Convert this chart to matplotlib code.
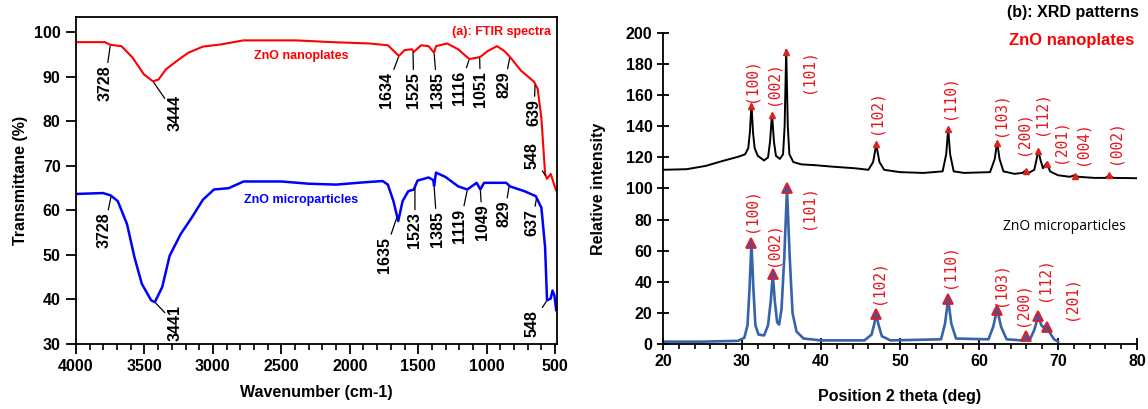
import numpy as np
import matplotlib.pyplot as plt
from matplotlib.ticker import MultipleLocator

plt.rcParams['font.family'] = ['Liberation Sans', 'DejaVu Sans']
plt.rcParams['font.weight'] = 'bold'
plt.rcParams['axes.labelweight'] = 'bold'

# FTIR spectra (wavenumber cm-1, transmittance %)
red_w = [4000, 3789, 3749, 3668, 3586, 3505, 3438, 3397, 3343, 3262, 3181, 3073, 2938, 2776,
         2397, 2127, 1857, 1722, 1641, 1600, 1546, 1533, 1478, 1424, 1384, 1370, 1289, 1208,
         1127, 1073, 1046, 992, 924, 870, 830, 749, 654, 627, 600, 573, 559, 532, 505, 492]
red_t = [97.8, 97.8, 97.2, 96.9, 94.3, 90.6, 89.0, 89.4, 91.7, 93.6, 95.4, 96.8, 97.3, 98.2,
         98.2, 97.8, 97.5, 97.1, 94.7, 96.0, 96.2, 95.6, 97.1, 96.9, 95.4, 96.9, 97.5, 96.2,
         94.0, 94.3, 94.5, 95.8, 96.9, 95.8, 94.5, 91.4, 88.9, 87.3, 80.7, 68.2, 67.1, 68.2, 65.6, 64.5]

blue_w = [4000, 3803, 3749, 3695, 3627, 3573, 3519, 3451, 3424, 3370, 3316, 3235, 3154, 3073,
          2992, 2884, 2776, 2500, 2300, 2100, 1900, 1760, 1722, 1681, 1646, 1614, 1573, 1532,
          1505, 1424, 1390, 1384, 1370, 1300, 1208, 1141, 1073, 1046, 1019, 857, 830, 722, 641,
          600, 573, 559, 532, 519, 505, 492]
blue_t = [63.7, 63.9, 63.4, 62.1, 56.9, 49.5, 43.5, 39.8, 39.4, 42.8, 49.8, 54.7, 58.4, 62.4,
          64.7, 65.0, 66.5, 66.5, 66.0, 65.8, 66.3, 66.6, 65.8, 62.1, 57.6, 62.1, 64.3, 64.7,
          66.7, 67.4, 66.8, 65.5, 68.5, 67.5, 65.4, 64.7, 66.2, 64.7, 66.2, 66.2, 65.4, 64.3, 63.2,
          60.6, 51.7, 39.8, 40.2, 42.0, 40.9, 37.6]

# band labels
red_bands = ['3728', '3444', '1634', '1525', '1385', '1116', '1051', '829', '639', '548']
red_band_at = [3749, 3438, 1641, 1538, 1384, 1127, 1051, 830, 646, 565]
red_lab_x = [3789, 3276, 1735, 1532, 1362, 1195, 1046, 870, 654, 668]
red_lab_y = [88.6, 81.8, 87.0, 87.0, 87.0, 87.6, 87.2, 88.2, 82.0, 72.4]

blue_bands = ['3728', '3441', '1635', '1523', '1385', '1119', '1049', '829', '637', '548']
blue_band_at = [3743, 3424, 1654, 1524, 1384, 1141, 1046, 835, 635, 559]
blue_lab_x = [3795, 3276, 1749, 1524, 1362, 1195, 1032, 870, 668, 668]
blue_lab_y = [55.5, 34.6, 50.0, 55.5, 55.8, 56.6, 57.3, 59.2, 57.3, 34.6]

# XRD patterns (2 theta, relative intensity)
nano_x = [20, 23, 25.4, 27.7, 29.6, 30.4, 30.8, 31.0, 31.2, 31.4, 31.6, 32.0, 32.8, 33.3, 33.55,
          33.8, 34.05, 34.3, 34.8, 35.2, 35.4, 35.6, 35.8, 36.0, 36.5, 37.5, 39.2, 41.5, 44.3,
          46.0, 46.6, 46.85, 47.0, 47.15, 47.4, 48.0, 50, 53, 55.4, 55.85, 56.1, 56.35, 56.8,
          58.1, 61.4, 62.0, 62.3, 62.6, 63.1, 64.5, 65.5, 65.9, 66.3, 67.0, 67.3, 67.5, 67.75,
          68.1, 68.6, 69.0, 70.0, 71.5, 72.1, 72.6, 74.6, 76.0, 76.5, 77.0, 80]
nano_y = [112, 112.4, 114.5, 117.9, 120.5, 122, 126, 136, 154, 136, 126, 121, 118, 120, 130,
          148, 130, 121, 119, 122, 140, 189, 140, 122, 117, 115.5, 115, 114, 113,
          112, 117, 124, 128.5, 124, 117, 112, 110.5, 110, 111, 122, 138, 122, 111,
          110, 110.5, 119, 130, 119, 111, 109.4, 110, 111.5, 110, 112, 119, 124.5, 119,
          113, 116.5, 111, 108.5, 107.5, 108.5, 107.5, 106.8, 106.8, 108.5, 106.8, 106.6]

micro_x = [20, 25, 29.5, 30.3, 30.7, 30.95, 31.2, 31.45, 31.7, 32.1, 32.8, 33.3, 33.65, 33.9,
           34.15, 34.45, 34.7, 35.0, 35.35, 35.7, 36.05, 36.4, 36.9, 37.8, 40, 45.5, 46.4, 46.75,
           47.0, 47.25, 47.7, 48.8, 55.2, 55.7, 56.1, 56.5, 57.1, 61.2, 61.8, 62.3, 62.8, 63.5,
           65.5, 66.5, 67.0, 67.5, 67.9, 68.2, 68.6, 69.0, 69.5, 70.0]
micro_y = [1.5, 1.5, 2, 4, 12, 35, 65, 35, 12, 6, 5.5, 12, 28, 44.8,
           28, 14, 12.5, 22, 55, 99.6, 55, 20, 8, 3.5, 2.3, 2.3, 6, 13,
           19.2, 13, 5, 2.3, 3, 13, 28.8, 13, 3.5, 3, 11, 22.4, 11, 3,
           2.3, 3.5, 9, 18.1, 12, 10.5, 12.8, 7, 3, 1.5]

nano_pk_x = [31.2, 33.8, 35.6, 47.0, 56.1, 62.3, 65.9, 67.5, 68.6, 72.1, 76.5]
nano_pk_y = [153, 147, 188, 128.5, 138, 129.5, 111, 124, 116, 108, 108.5]
nano_hkl = ['(100)', '(002)', '(101)', '(102)', '(110)', '(103)', '(200)', '(112)', '(201)', '(004)', '(002)']
nano_lab_x = [31.2, 33.9, 38.3, 47.0, 56.2, 62.6, 65.6, 67.9, 70.3, 73.0, 77.2]
nano_lab_y = [169.5, 167.8, 175.5, 149, 158.8, 148, 135.4, 148.6, 130.7, 129, 130]

micro_pk_x = [31.2, 33.9, 35.7, 47.0, 56.1, 62.3, 65.9, 67.5, 68.6]
micro_pk_y = [65, 45, 100, 19, 29, 22, 5, 18, 11]
micro_hkl = ['(100)', '(002)', '(101)', '(102)', '(110)', '(103)', '(200)', '(112)', '(201)']
micro_lab_x = [31.2, 33.9, 38.3, 47.2, 56.2, 62.7, 65.5, 68.2, 71.6]
micro_lab_y = [86, 64, 88, 40, 50, 38.4, 25.6, 41.6, 29.4]

fig = plt.figure(figsize=(11.48, 4.09), dpi=100)

# ---- (a) FTIR
ax1 = fig.add_axes([0.0662, 0.159, 0.419, 0.80])
ax1.plot(red_w, red_t, color='#ff0000', lw=1.5)
ax1.plot(blue_w, blue_t, color='#0000ff', lw=1.8)
ax1.set_xlim(4000, 486)
ax1.set_ylim(30, 103.5)
ax1.xaxis.set_major_locator(MultipleLocator(500))
ax1.xaxis.set_minor_locator(MultipleLocator(100))
ax1.yaxis.set_major_locator(MultipleLocator(10))
ax1.tick_params(which='major', direction='out', length=7.5, width=1.3, labelsize=11.5)
ax1.tick_params(which='minor', direction='out', length=4.5, width=1.2)
ax1.tick_params(axis='y', which='minor', left=False)
for s in ax1.spines.values():
    s.set_linewidth(1.3)

rw, rt = red_w[::-1], red_t[::-1]
for lab, at, tx, ty in zip(red_bands, red_band_at, red_lab_x, red_lab_y):
    ax1.annotate(lab, xy=(at, np.interp(at, rw, rt)), xytext=(tx, ty), rotation=90,
                 ha='center', va='center', fontsize=11.5,
                 arrowprops=dict(arrowstyle='-', lw=0.9, color='black', shrinkA=0, shrinkB=1))
bw, bt = blue_w[::-1], blue_t[::-1]
for lab, at, tx, ty in zip(blue_bands, blue_band_at, blue_lab_x, blue_lab_y):
    ax1.annotate(lab, xy=(at, np.interp(at, bw, bt)), xytext=(tx, ty), rotation=90,
                 ha='center', va='center', fontsize=11.5,
                 arrowprops=dict(arrowstyle='-', lw=0.9, color='black', shrinkA=0, shrinkB=1))

ax1.text(533, 100, '(a): FTIR spectra', color='#ff0000', fontsize=9, ha='right', va='center')
ax1.text(2357, 94.7, 'ZnO nanoplates', color='#ff0000', fontsize=9, ha='center', va='center')
ax1.text(2357, 62.4, 'ZnO microparticles', color='#0000ff', fontsize=9, ha='center', va='center')
ax1.set_xlabel('Wavenumber (cm-1)', fontsize=11.5, labelpad=8)
ax1.set_ylabel('Transmittane (%)', fontsize=11.5, labelpad=4)

# ---- (b) XRD
ax2 = fig.add_axes([0.5775, 0.159, 0.4129, 0.7604])
ax2.plot(nano_x, nano_y, color='black', lw=1.4)
ax2.plot(micro_x, micro_y, color='#3763aa', lw=1.9)
ax2.plot(nano_pk_x, nano_pk_y, '^', ms=4, color='#e02020', mec='#e02020')
ax2.plot(micro_pk_x, micro_pk_y, '^', ms=7, mfc='#5a4a9a', mec='#e02020', mew=1.3)
for lab, tx, ty in zip(nano_hkl, nano_lab_x, nano_lab_y):
    ax2.text(tx, ty, lab, rotation=90, color='#e8141c', fontsize=10.5, fontweight='normal',
             family='DejaVu Sans Mono', ha='center', va='center')
for lab, tx, ty in zip(micro_hkl, micro_lab_x, micro_lab_y):
    ax2.text(tx, ty, lab, rotation=90, color='#e8141c', fontsize=10.5, fontweight='normal',
             family='DejaVu Sans Mono', ha='center', va='center')

ax2.set_xlim(20, 80)
ax2.set_ylim(0, 200)
ax2.xaxis.set_major_locator(MultipleLocator(10))
ax2.xaxis.set_minor_locator(MultipleLocator(2))
ax2.yaxis.set_major_locator(MultipleLocator(20))
ax2.spines['top'].set_visible(False)
ax2.spines['right'].set_visible(False)
for s in ax2.spines.values():
    s.set_linewidth(1.3)
ax2.tick_params(which='major', direction='inout', length=8, width=1.3, labelsize=11.5)
ax2.tick_params(axis='x', which='minor', direction='out', length=3.5, width=1.2)
ax2.text(80.3, 213, '(b): XRD patterns', fontsize=11.5, ha='right', va='center', clip_on=False)
ax2.text(79.6, 195, 'ZnO nanoplates', color='#ff0000', fontsize=12, ha='right', va='center')
ax2.text(70.8, 75.7, 'ZnO microparticles', fontsize=10, fontweight='normal', family='Open Sans',
         ha='center', va='center')
ax2.set_xlabel('Position 2 theta (deg)', fontsize=11.5, labelpad=14)
ax2.set_ylabel('Relative intensity', fontsize=11.5, labelpad=14)

fig.savefig('out.png', dpi=100)
